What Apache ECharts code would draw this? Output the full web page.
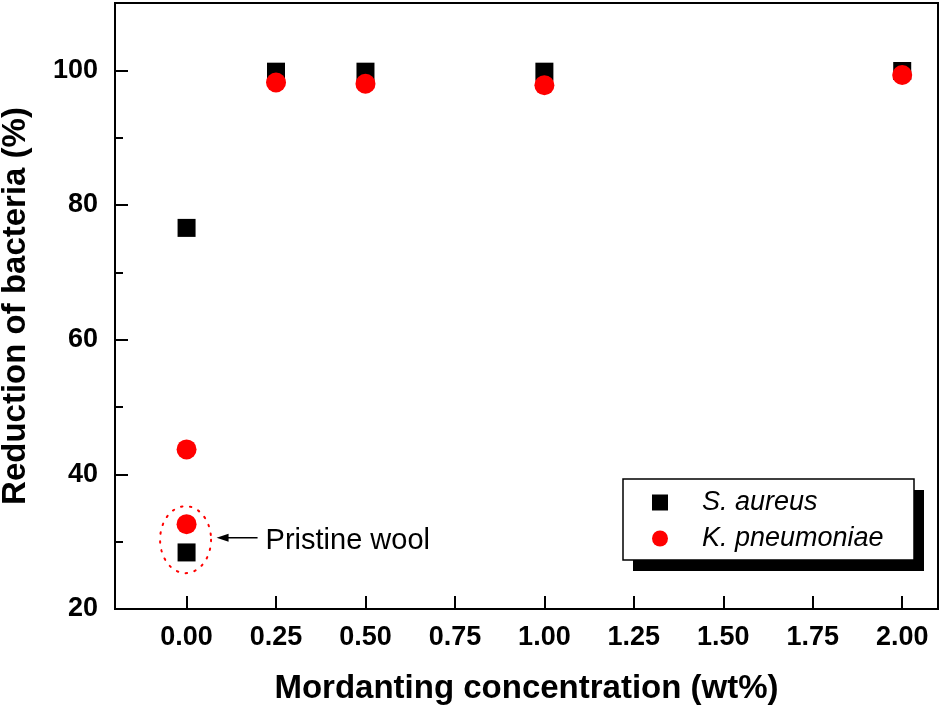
<!DOCTYPE html>
<html>
<head>
<meta charset="utf-8">
<script src="https://cdn.jsdelivr.net/npm/echarts@6/dist/echarts.min.js"></script>
<style>
html,body{margin:0;padding:0;background:#fff;}
#chart{width:941px;height:706px;}
</style>
</head>
<body>
<div id="chart"></div>
<script>
// ---- data ----
const seriesNames = ['S. aureus', 'K. pneumoniae'];
const xSaureus = [0, 0, 0.25, 0.5, 1.0, 2.0];
const ySaureus = [76.6, 28.4, 99.8, 99.8, 99.8, 99.9];
const xKpneu = [0, 0, 0.25, 0.5, 1.0, 2.0];
const yKpneu = [43.7, 32.6, 98.2, 98.0, 97.8, 99.3];
const xTicks = [0, 0.25, 0.5, 0.75, 1.0, 1.25, 1.5, 1.75, 2.0];
const yTicks = [20, 40, 60, 80, 100];
const yMinorTicks = [30, 50, 70, 90];
const xTitle = 'Mordanting concentration (wt%)';
const yTitle = 'Reduction of bacteria (%)';
const annotationText = 'Pristine wool';
const annotationAnchor = [0, 30.3]; // data point the annotation circles

const FONT = '"Liberation Sans", Arial, sans-serif';
const chart = echarts.init(document.getElementById('chart'), null, {renderer: 'canvas'});

const pairs = (xs, ys) => xs.map((x, i) => [x, ys[i]]);

const option = {
  animation: false,
  backgroundColor: '#fff',
  grid: {left: 115, right: 3, top: 3, bottom: 97, show: true, borderColor: '#000', borderWidth: 2,
    containLabel: false, outerBoundsMode: 'none'},
  xAxis: {
    type: 'value', min: -0.2, max: 2.1,
    name: xTitle, nameLocation: 'middle', nameGap: 63,
    nameTextStyle: {fontFamily: FONT, fontWeight: 'bold', fontSize: 33, color: '#000'},
    axisLine: {show: true, onZero: false, lineStyle: {color: '#000', width: 2}},
    axisTick: {show: true, inside: true, length: 13, customValues: xTicks, lineStyle: {color: '#000', width: 2}},
    axisLabel: {show: true, customValues: xTicks, margin: 15, fontFamily: FONT, fontWeight: 'bold', fontSize: 27, color: '#000',
      formatter: v => Number(v).toFixed(2)},
    splitLine: {show: false}
  },
  yAxis: [{
    type: 'value', min: 20, max: 110,
    name: yTitle, nameLocation: 'middle', nameGap: 83, nameRotate: 90,
    nameTextStyle: {fontFamily: FONT, fontWeight: 'bold', fontSize: 33, color: '#000'},
    axisLine: {show: true, onZero: false, lineStyle: {color: '#000', width: 2}},
    axisTick: {show: true, inside: true, length: 13, customValues: yTicks, lineStyle: {color: '#000', width: 2}},
    axisLabel: {show: true, customValues: yTicks, margin: 17, fontFamily: FONT, fontWeight: 'bold', fontSize: 27, color: '#000'},
    splitLine: {show: false}
  }, {
    type: 'value', min: 20, max: 110, position: 'left', offset: 0,
    axisLine: {show: false, onZero: false},
    axisTick: {show: true, inside: true, length: 8, customValues: yMinorTicks, lineStyle: {color: '#000', width: 2}},
    axisLabel: {show: false},
    splitLine: {show: false}
  }],
  legend: {
    orient: 'vertical', left: 623, top: 479,
    data: seriesNames,
    itemWidth: 16, itemHeight: 16, itemGap: 9,
    padding: [10, 30, 8, 29],
    backgroundColor: 'transparent', borderWidth: 0,
    textStyle: {fontFamily: FONT, fontStyle: 'italic', fontSize: 27, color: '#000', padding: [0, 0, 0, 29]},
    z: 20
  },
  series: [{
    name: seriesNames[0], type: 'scatter', symbol: 'rect', symbolSize: 18,
    itemStyle: {color: '#000', opacity: 1}, data: pairs(xSaureus, ySaureus), z: 2
  }, {
    name: seriesNames[1], type: 'scatter', symbol: 'circle', symbolSize: 20,
    itemStyle: {color: '#ff0000', opacity: 1}, data: pairs(xKpneu, yKpneu), z: 3
  }]
};
chart.setOption(option);

// annotation placed relative to the data anchor
const c = chart.convertToPixel({gridIndex: 0}, annotationAnchor);
const cx = c[0] - 1;
const rx = 25.5, ry = 33.5;
const ell = [];
for (let i = 0; i <= 72; i++) {
  const t = i / 72 * Math.PI * 2;
  ell.push([cx + rx * Math.cos(t), c[1] + ry * Math.sin(t)]);
}
const ay = c[1] - 2;
chart.setOption({
  graphic: [
    {type: 'rect', shape: {x: 633, y: 490, width: 291, height: 81}, z: 15, silent: true,
      style: {fill: '#000'}},
    {type: 'rect', shape: {x: 623, y: 479, width: 291, height: 81}, z: 16, silent: true,
      style: {fill: '#fff', stroke: '#000', lineWidth: 1.5}},
    {type: 'polyline', shape: {points: ell}, z: 10, silent: true,
      style: {stroke: '#ff0000', lineWidth: 2, lineDash: [1.5, 7.5], lineCap: 'round', fill: null}},
    {type: 'line', shape: {x1: cx + 72, y1: ay, x2: cx + 40, y2: ay}, z: 10, silent: true,
      style: {stroke: '#000', lineWidth: 1.5}},
    {type: 'polygon', shape: {points: [[cx + 31, ay], [cx + 43, ay - 4], [cx + 43, ay + 4]]}, z: 10, silent: true,
      style: {fill: '#000'}},
    {type: 'text', x: cx + 80, y: ay + 3, z: 10, silent: true,
      style: {text: annotationText, fontFamily: FONT, fontSize: 29, fill: '#000', verticalAlign: 'middle', align: 'left'}}
  ]
});
</script>
</body>
</html>
